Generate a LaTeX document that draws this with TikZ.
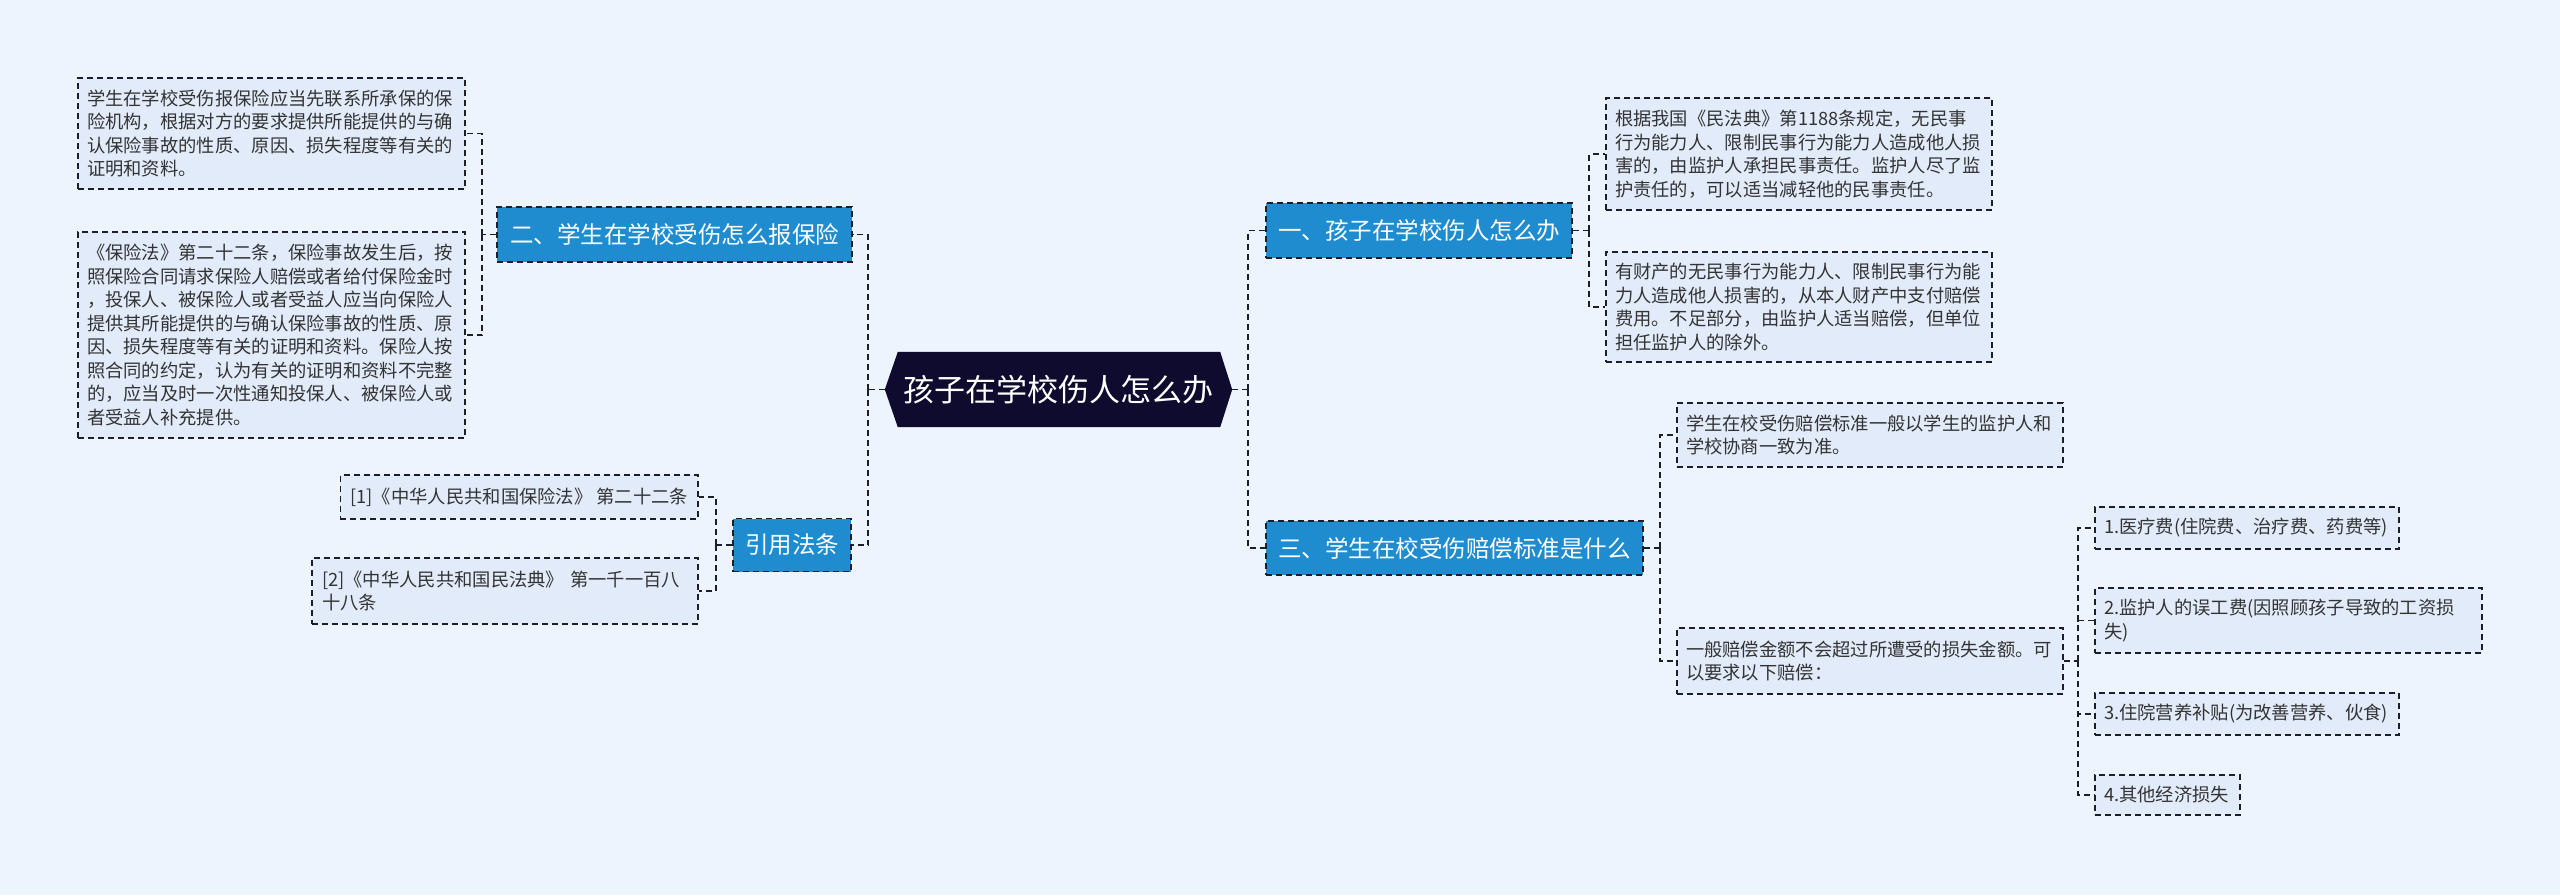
\documentclass[tikz,border=0pt]{standalone}
\usepackage{fontspec}
\newfontfamily\cjk{Noto Sans CJK SC}
\definecolor{bgC}{HTML}{EEF4FD}
\definecolor{leafC}{HTML}{E2EBFA}
\definecolor{brC}{HTML}{1E8CCF}
\definecolor{rootC}{HTML}{0E0B2F}
\definecolor{lineC}{HTML}{1E1E2A}
\definecolor{textC}{HTML}{333333}
\tikzset{
  dline/.style={draw=lineC, line width=1.7pt, dash pattern=on 6pt off 4pt},
  leaf/.style={dline, fill=leafC, text=textC, font=\cjk\fontsize{18.3}{23.5}\selectfont, align=left, inner xsep=9pt, inner ysep=0pt},
  branch/.style={dline, fill=brC, text=white, font=\cjk\fontsize{23.5}{28}\selectfont, inner xsep=0pt, inner ysep=0pt, minimum height=55pt},
  conn/.style={dline}
}
\begin{document}
\begin{tikzpicture}[x=1pt,y=-1pt]
\fill[bgC] (0,0) rectangle (2560,895);
\useasboundingbox (0,0) rectangle (2560,895);

% root
\node[font=\cjk\fontsize{31}{36}\selectfont, text=white, minimum width=347pt, minimum height=75pt, inner sep=0pt] (root) at (1058.5,389.5) {};
\fill[rootC] (root.west) -- ([xshift=13pt]root.north west) -- ([xshift=-12pt]root.north east) -- (root.east) -- ([xshift=-12pt]root.south east) -- ([xshift=13pt]root.south west) -- cycle;
\node[font=\cjk\fontsize{31}{36}\selectfont, text=white, inner sep=0pt] (roottext) at (root.center) {孩子在学校伤人怎么办};

% branches
\node[branch, minimum width=306pt] (B1) at (1419,230.5) {一、孩子在学校伤人怎么办};
\node[branch, minimum width=377pt, minimum height=54pt] (B3) at (1454.5,548) {三、学生在校受伤赔偿标准是什么};
\node[branch, minimum width=355pt] (B2) at (674.5,234.5) {二、学生在学校受伤怎么报保险};
\node[branch, minimum width=118pt, minimum height=53pt] (B4) at (792,545) {引用法条};

% right leaves
\node[leaf, text width=368pt, minimum height=112pt] (R1a) at (1799,154) {根据我国《民法典》第1188条规定，无民事\\行为能力人、限制民事行为能力人造成他人损\\害的，由监护人承担民事责任。监护人尽了监\\护责任的，可以适当减轻他的民事责任。};
\node[leaf, text width=368pt, minimum height=110pt] (R1b) at (1799,307) {有财产的无民事行为能力人、限制民事行为能\\力人造成他人损害的，从本人财产中支付赔偿\\费用。不足部分，由监护人适当赔偿，但单位\\担任监护人的除外。};
\node[leaf, text width=368pt, minimum height=64pt] (R3a) at (1870,435) {学生在校受伤赔偿标准一般以学生的监护人和\\学校协商一致为准。};
\node[leaf, text width=368pt, minimum height=66pt] (R3b) at (1870,661) {一般赔偿金额不会超过所遭受的损失金额。可\\以要求以下赔偿：};
\node[leaf, text width=286pt, minimum height=42pt] (C1) at (2247,528) {1.医疗费(住院费、治疗费、药费等)};
\node[leaf, text width=369pt, minimum height=65pt] (C2) at (2288.5,620.5) {2.监护人的误工费(因照顾孩子导致的工资损\\失)};
\node[leaf, text width=286pt, minimum height=42pt] (C3) at (2247,714) {3.住院营养补贴(为改善营养、伙食)};
\node[leaf, text width=127pt, minimum height=40pt] (C4) at (2167.5,795) {4.其他经济损失};

% left leaves
\node[leaf, text width=369pt, minimum height=111pt] (L2a) at (271.5,133.5) {学生在学校受伤报保险应当先联系所承保的保\\险机构，根据对方的要求提供所能提供的与确\\认保险事故的性质、原因、损失程度等有关的\\证明和资料。};
\node[leaf, text width=369pt, minimum height=206pt] (L2b) at (271.5,335) {《保险法》第二十二条，保险事故发生后，按\\照保险合同请求保险人赔偿或者给付保险金时\\，投保人、被保险人或者受益人应当向保险人\\提供其所能提供的与确认保险事故的性质、原\\因、损失程度等有关的证明和资料。保险人按\\照合同的约定，认为有关的证明和资料不完整\\的，应当及时一次性通知投保人、被保险人或\\者受益人补充提供。};
\node[leaf, inner xsep=10pt, minimum height=44pt, anchor=east] (L4a) at (699,497) {{[1]}《中华人民共和国保险法》 第二十二条};
\node[leaf, inner xsep=10pt, text width=366pt, minimum height=66pt, anchor=east] (L4b) at (699,591) {{[2]}《中华人民共和国民法典》 第一千一百八\\十八条};

% junctions
\coordinate (jR) at (1248,389.5);
\coordinate (jL) at (868,389.5);
\coordinate (j1) at (1589,230.5);
\coordinate (j3) at (1660,548);
\coordinate (jc) at (2078,661);
\coordinate (j2) at (482,234.5);
\coordinate (j4) at (716,545);

% connectors
\draw[conn] (root.east) -- (jR);
\draw[conn] (jR) |- (B1.west);
\draw[conn] (jR) |- (B3.west);
\draw[conn] (root.west) -- (jL);
\draw[conn] (jL) |- (B2.east);
\draw[conn] (jL) |- (B4.east);

\draw[conn] (B1.east) -- (j1);
\draw[conn] (j1) |- (R1a.west);
\draw[conn] (j1) |- (R1b.west);

\draw[conn] (B3.east) -- (j3);
\draw[conn] (j3) |- (R3a.west);
\draw[conn] (j3) |- (R3b.west);

\draw[conn] (R3b.east) -- (jc);
\draw[conn] (jc) |- (C1.west);
\draw[conn] (jc) |- (C2.west);
\draw[conn] (jc) |- (C3.west);
\draw[conn] (jc) |- (C4.west);

\draw[conn] (B2.west) -- (j2);
\draw[conn] (j2) |- (L2a.east);
\draw[conn] (j2) |- (L2b.east);

\draw[conn] (B4.west) -- (j4);
\draw[conn] (j4) |- (L4a.east);
\draw[conn] (j4) |- (L4b.east);
\end{tikzpicture}
\end{document}
